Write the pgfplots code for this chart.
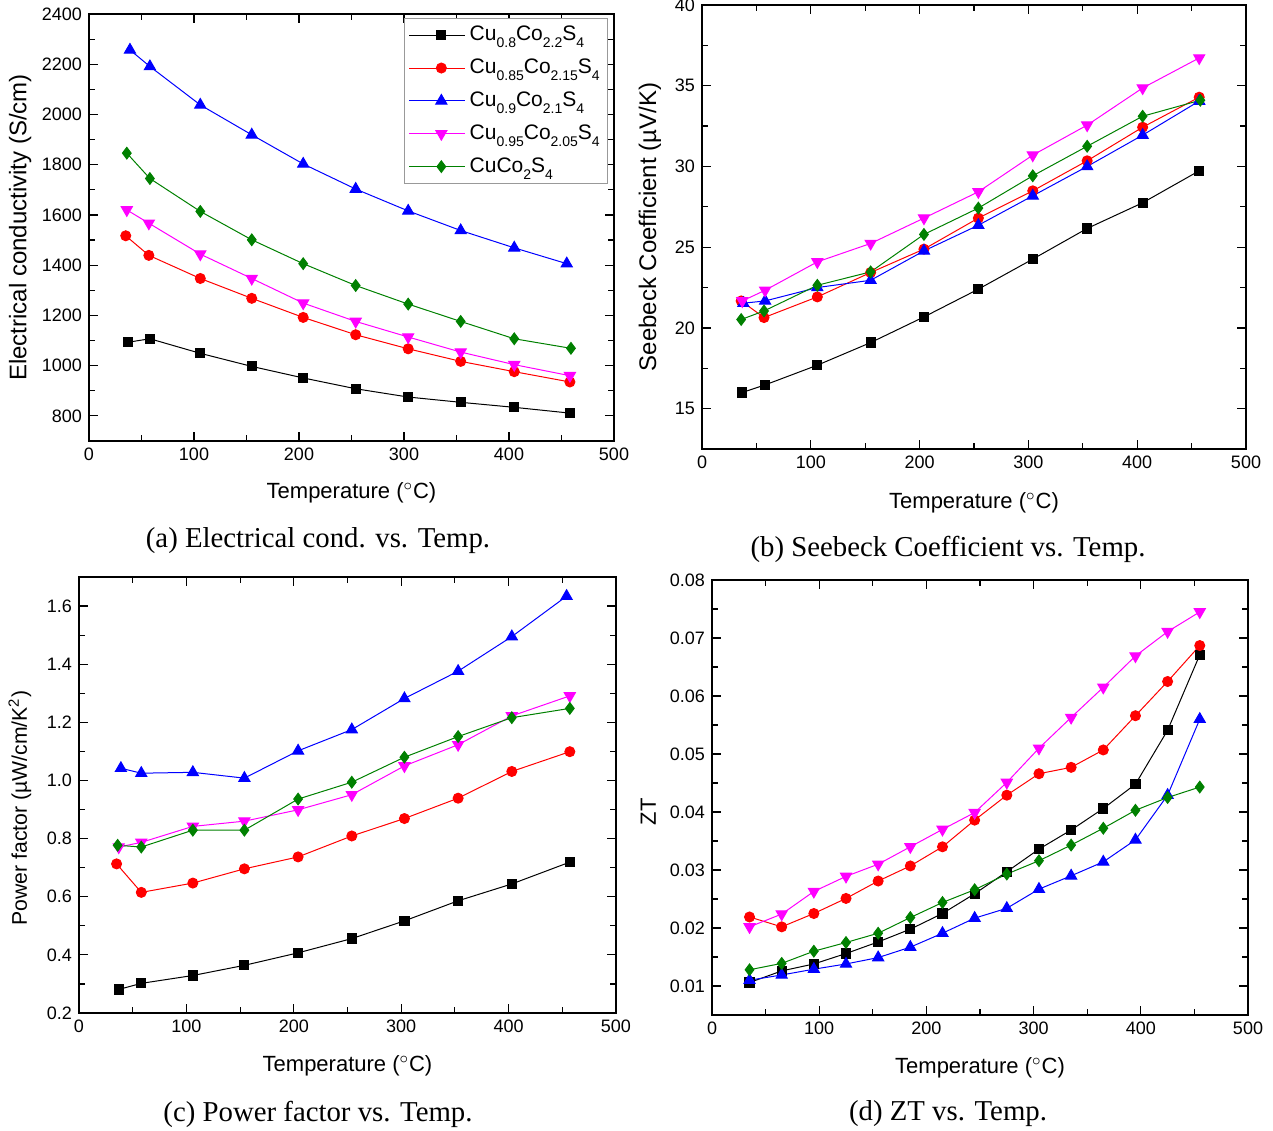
\documentclass[border=0pt]{standalone}
\usepackage{fontspec}
\setmainfont{Liberation Sans}
\newfontfamily\capfont{Liberation Serif}
\usepackage{pgfplots}
\pgfplotsset{compat=1.18}
\definecolor{ogreen}{RGB}{0,128,0}
\definecolor{mag}{RGB}{255,0,255}
\newcommand\sub[1]{\raisebox{-0.6ex}{\fontsize{7}{8}\selectfont #1}}
\pgfplotsset{
 panel/.style={
  scale only axis, xmin=0, xmax=500, xtick={0,100,...,500},
  minor x tick num=1, minor y tick num=1,
  tick align=inside,
  axis line style={line width=0.9pt},
  major tick style={line width=0.6pt, black},
  minor tick style={line width=0.6pt, black},
  major tick length=4.5pt, minor tick length=2.8pt,
  tick label style={font=\fontsize{9}{10}\selectfont},
  xlabel style={font=\fontsize{11}{13}\selectfont},
  /pgf/number format/assume math mode=true,
  /pgf/number format/1000 sep={},
  scaled y ticks=false,
  xlabel={Temperature ($^{\circ}$C)},
  xlabel style={at={(axis description cs:0.5,-0.122)}, anchor=center},
  every axis plot/.append style={line width=0.5pt},
 },
 s1/.style={black, mark=square*, mark size=2.3pt},
 s2/.style={red, mark=*, mark size=2.5pt},
 s3/.style={blue, mark=triangle*, mark size=3.2pt},
 s4/.style={mag, mark=triangle*, mark size=3.2pt, mark options={rotate=180}},
 s5/.style={ogreen, mark=diamond*, mark size=2.9pt},
}
\begin{document}
\begin{tikzpicture}
\useasboundingbox (0,0) rectangle (636.5pt,565pt);
% (a)
\begin{axis}[panel, at={(44.5pt,344.5pt)}, anchor=south west,
  width=262.5pt, height=213.5pt,
  ymin=700, ymax=2400, ytick={800,1000,...,2400},
  ylabel={Electrical conductivity (S/cm)},
  ylabel style={at={(axis description cs:-0.131,0.5)}, anchor=center, font=\fontsize{12}{14}\selectfont},
  legend style={at={(rel axis cs:0.989,0.991)}, anchor=north east, draw=gray!80, line width=0.5pt,
    font=\fontsize{10.5}{12}\selectfont, row sep=3.6pt, inner sep=2pt},
  legend cell align=left,
  legend image code/.code={\path (-0.14cm,0cm) -- (0cm,0cm); \draw[mark repeat=2,mark phase=2] plot coordinates {(0cm,0cm) (0.42cm,0cm) (0.84cm,0cm)};}
]
\addplot[s1] coordinates {(37,1093)(58,1107)(106,1049)(155,997)(204,951)(254,908)(304,875)(354,854)(405,834)(458,811)};
\addplot[s2] coordinates {(35,1517)(57,1439)(106,1347)(155,1268)(204,1192)(254,1123)(304,1067)(354,1017)(405,976)(458,935)};
\addplot[s3] coordinates {(39,2257)(58,2191)(106,2038)(155,1919)(204,1803)(254,1703)(304,1616)(354,1538)(405,1469)(455,1406)};
\addplot[s4] coordinates {(36,1620)(57,1567)(106,1444)(155,1347)(204,1249)(254,1176)(304,1114)(354,1054)(405,1004)(458,960)};
\addplot[s5] coordinates {(36,1846)(58,1745)(106,1614)(155,1501)(204,1406)(254,1319)(304,1245)(354,1176)(405,1107)(459,1069)};
\legend{Cu\sub{0.8}Co\sub{2.2}S\sub{4},
Cu\sub{0.85}Co\sub{2.15}S\sub{4},
Cu\sub{0.9}Co\sub{2.1}S\sub{4},
Cu\sub{0.95}Co\sub{2.05}S\sub{4},
CuCo\sub{2}S\sub{4}}
\end{axis}
% (b)
\begin{axis}[panel, at={(351pt,340.5pt)}, anchor=south west,
  width=272pt, height=222pt,
  ymin=12.5, ymax=40, ytick={15,20,...,40},
  ylabel={Seebeck Coefficient (µV/K)},
  ylabel style={at={(axis description cs:-0.0956,0.5)}, anchor=center, font=\fontsize{12}{14}\selectfont},
]
\addplot[s1] coordinates {(37,16.0)(58,16.47)(106,17.69)(155,19.09)(204,20.68)(254,22.40)(304,24.26)(354,26.16)(405,27.75)(457,29.73)};
\addplot[s2] coordinates {(36,21.67)(57,20.64)(106,21.92)(155,23.43)(204,24.88)(254,26.80)(304,28.49)(354,30.35)(405,32.43)(457,34.29)};
\addplot[s3] coordinates {(38,21.53)(58,21.67)(106,22.50)(155,22.95)(204,24.77)(254,26.36)(304,28.18)(354,30.0)(405,31.94)(457,34.05)};
\addplot[s4] coordinates {(37,21.67)(58,22.33)(106,24.09)(155,25.23)(204,26.80)(254,28.43)(304,30.7)(354,32.56)(405,34.86)(457,36.72)};
\addplot[s5] coordinates {(36,20.52)(57,21.05)(106,22.64)(155,23.47)(204,25.79)(254,27.42)(304,29.42)(354,31.25)(405,33.11)(458,34.1)};
\end{axis}
% (c)
\begin{axis}[panel, at={(39.5pt,58.5pt)}, anchor=south west,
  width=268.5pt, height=218pt,
  ymin=0.2, ymax=1.7, ytick={0.2,0.4,0.6,0.8,1.0,1.2,1.4,1.6},
  yticklabel style={/pgf/number format/fixed, /pgf/number format/fixed zerofill, /pgf/number format/precision=1},
  ylabel={Power factor (µW/cm/K\textsuperscript{2})},
  ylabel style={at={(axis description cs:-0.110,0.47)}, anchor=center, font=\fontsize{10.6}{12}\selectfont},
]
\addplot[s1] coordinates {(37,0.281)(58,0.302)(106,0.329)(154,0.364)(204,0.407)(254,0.456)(303,0.517)(353,0.586)(403,0.644)(457,0.719)};
\addplot[s2] coordinates {(35,0.713)(58,0.615)(106,0.647)(154,0.696)(204,0.737)(254,0.809)(303,0.869)(353,0.939)(403,1.031)(457,1.099)};
\addplot[s3] coordinates {(39,1.042)(58,1.025)(106,1.028)(154,1.008)(204,1.102)(254,1.175)(303,1.282)(353,1.376)(403,1.495)(454,1.634)};
\addplot[s4] coordinates {(37,0.771)(58,0.787)(106,0.842)(154,0.860)(204,0.899)(254,0.951)(303,1.050)(353,1.123)(403,1.222)(457,1.291)};
\addplot[s5] coordinates {(36,0.777)(58,0.771)(106,0.829)(154,0.829)(204,0.936)(254,0.994)(303,1.080)(353,1.151)(403,1.216)(457,1.248)};
\end{axis}
% (d)
\begin{axis}[panel, at={(356pt,57.5pt)}, anchor=south west,
  width=268pt, height=217.5pt,
  ymin=0.005, ymax=0.08, ytick={0.01,0.02,0.03,0.04,0.05,0.06,0.07,0.08},
  yticklabel style={/pgf/number format/fixed, /pgf/number format/fixed zerofill, /pgf/number format/precision=2},
  ylabel={ZT},
  ylabel style={at={(axis description cs:-0.119,0.467)}, anchor=center, font=\fontsize{11}{13}\selectfont},
]
\addplot[s1] coordinates {(35,0.0106)(65,0.0126)(95,0.0138)(125,0.0156)(155,0.0176)(185,0.0198)(215,0.0225)(245,0.0259)(275,0.0297)(305,0.0336)(335,0.0369)(365,0.0406)(395,0.0448)(425,0.0541)(455,0.0671)};
\addplot[s2] coordinates {(35,0.0219)(65,0.0202)(95,0.0225)(125,0.0251)(155,0.0281)(185,0.0307)(215,0.0340)(245,0.0386)(275,0.0429)(305,0.0466)(335,0.0477)(365,0.0507)(395,0.0566)(425,0.0625)(455,0.0687)};
\addplot[s3] coordinates {(35,0.0110)(65,0.0119)(95,0.0129)(125,0.0138)(155,0.0149)(185,0.0167)(215,0.0191)(245,0.0217)(275,0.0234)(305,0.0267)(335,0.0290)(365,0.0314)(395,0.0352)(425,0.0429)(455,0.0560)};
\addplot[s4] coordinates {(35,0.0202)(65,0.0224)(95,0.0263)(125,0.0289)(155,0.0310)(185,0.0340)(215,0.0370)(245,0.0399)(275,0.0451)(305,0.0510)(335,0.0563)(365,0.0615)(395,0.0669)(425,0.0711)(455,0.0745)};
\addplot[s5] coordinates {(35,0.0128)(65,0.0139)(95,0.0160)(125,0.0175)(155,0.0191)(185,0.0218)(215,0.0244)(245,0.0266)(275,0.0293)(305,0.0316)(335,0.0343)(365,0.0372)(395,0.0403)(425,0.0425)(455,0.0443)};
\end{axis}
\node[font=\capfont\fontsize{14.4}{16}\selectfont] at (159pt,294.5pt) {(a) Electrical cond. vs. Temp.};
\node[font=\capfont\fontsize{14.4}{16}\selectfont] at (474pt,290.5pt) {(b) Seebeck Coefficient vs. Temp.};
\node[font=\capfont\fontsize{14.4}{16}\selectfont] at (159pt,8pt) {(c) Power factor vs. Temp.};
\node[font=\capfont\fontsize{14.4}{16}\selectfont] at (474pt,8pt) {(d) ZT vs. Temp.};
\end{tikzpicture}
\end{document}
